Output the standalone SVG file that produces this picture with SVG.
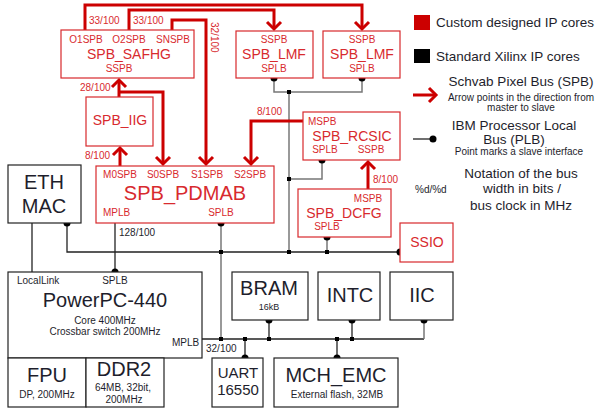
<svg xmlns="http://www.w3.org/2000/svg" width="597" height="408" viewBox="0 0 597 408">
<style>
text{font-family:"Liberation Sans",Arial,sans-serif}
.rb{fill:#fff;stroke:#d8282c;stroke-width:1.2}
.bb{fill:#fff;stroke:#222;stroke-width:1.2}
.rt{fill:#d82a2e}
.bt{fill:#1e1e2c}
.s10{font-size:10px}
.s14{font-size:14px}
.s20{font-size:20px}
.s9{font-size:9px}
.s135{font-size:13.5px}
.m{text-anchor:middle}
.spb{fill:none;stroke:#cc0000;stroke-width:3;marker-end:url(#arr)}
.spbn{fill:none;stroke:#cc0000;stroke-width:3}
.plb{fill:none;stroke:#222;stroke-width:1.3}
.plbg{fill:none;stroke:#777;stroke-width:1.5}
.dot{fill:#000}
.j{fill:#000}
</style>
<defs>
<marker id="arr" markerUnits="userSpaceOnUse" markerWidth="20" markerHeight="20" viewBox="-10 -10 20 20" refX="0" refY="0" orient="auto" overflow="visible">
<path d="M-7,-7 L0,0 L-7,7" fill="none" stroke="#cc0000" stroke-width="3"/>
</marker>
</defs>

<!-- connectors -->
<g id="connectors">
<!-- PLB -->
<polyline class="plbg" points="274,78 274,92 362,92 362,78"/>
<line class="plbg" x1="289" y1="92" x2="289" y2="252"/>
<polyline class="plbg" points="322,160 322,179 289,179"/>
<line class="plbg" x1="327" y1="237" x2="327" y2="252"/>
<polyline class="plb" points="67,223 67,252 400,252"/>
<line class="plbg" x1="221" y1="223" x2="221" y2="339"/>
<line class="plb" x1="32" y1="223" x2="32" y2="272"/>
<line class="plb" x1="115" y1="223" x2="115" y2="272"/>
<polyline class="plb" points="202,339 424,339"/>
<line class="plbg" x1="424" y1="339" x2="424" y2="320"/>
<line class="plb" x1="245" y1="339" x2="245" y2="358"/>
<line class="plb" x1="269" y1="339" x2="269" y2="320"/>
<line class="plb" x1="337" y1="339" x2="337" y2="358"/>
<line class="plb" x1="352" y1="339" x2="352" y2="320"/>
<rect class="j" x="287" y="90" width="4" height="4"/>
<rect class="j" x="287" y="177" width="4" height="4"/>
<rect class="j" x="219" y="250" width="4" height="4"/>
<rect class="j" x="287" y="250" width="4" height="4"/>
<rect class="j" x="325" y="250" width="4" height="4"/>
<rect class="j" x="219" y="337" width="4" height="4"/>
<rect class="j" x="243" y="337" width="4" height="4"/>
<rect class="j" x="267" y="337" width="4" height="4"/>
<rect class="j" x="335" y="337" width="4" height="4"/>
<rect class="j" x="350" y="337" width="4" height="4"/>
<circle class="dot" cx="274" cy="78" r="3.5"/>
<circle class="dot" cx="362" cy="78" r="3.5"/>
<circle class="dot" cx="322" cy="160" r="3.5"/>
<circle class="dot" cx="327" cy="237" r="3.5"/>
<circle class="dot" cx="67" cy="223" r="3.5"/>
<circle class="dot" cx="221" cy="223" r="3.5"/>
<circle class="dot" cx="400" cy="252" r="3.5"/>
<circle class="dot" cx="115" cy="272" r="3.5"/>
<circle class="dot" cx="424" cy="320" r="3.5"/>
<circle class="dot" cx="269" cy="320" r="3.5"/>
<circle class="dot" cx="352" cy="320" r="3.5"/>
<circle class="dot" cx="245" cy="358" r="3.5"/>
<circle class="dot" cx="337" cy="358" r="3.5"/>
<!-- SPB -->
<polyline class="spb" points="85,30 85,5 362,5 362,29"/>
<polyline class="spb" points="129,30 129,10 274,10 274,29"/>
<polyline class="spb" points="172,30 172,20 206,20 206,164"/>
<line class="spb" x1="119" y1="97" x2="119" y2="80"/>
<polyline class="spb" points="119,92 163,92 163,164"/>
<line class="spb" x1="120" y1="166" x2="120" y2="148"/>
<polyline class="spb" points="303,121 251,121 251,164"/>
<line class="spb" x1="368" y1="189" x2="368" y2="162"/>
<text class="rt s10" x="89" y="24">33/100</text>
<text class="rt s10" x="133" y="24">33/100</text>
<text class="rt s10" transform="translate(210.5,22) rotate(90)">32/100</text>
<text class="rt s10" x="80" y="91">28/100</text>
<text class="rt s10" x="85" y="159">8/100</text>
<text class="rt s10" x="257" y="115">8/100</text>
<text class="rt s10" x="373" y="183">8/100</text>
<text class="bt s10" x="119" y="236">128/100</text>
<text class="bt s10" x="206" y="352">32/100</text>
</g>

<g id="SPB_SAFHG">
<rect class="rb" x="61" y="30" width="133" height="48"/>
<text class="rt s10 m" x="86" y="43">O1SPB</text>
<text class="rt s10 m" x="129" y="43">O2SPB</text>
<text class="rt s10 m" x="173" y="43">SNSPB</text>
<text class="rt s14 m" x="129" y="59">SPB_SAFHG</text>
<text class="rt s10 m" x="119" y="72">SSPB</text>
</g>

<g id="SPB_LMF1">
<rect class="rb" x="236" y="31" width="77" height="47"/>
<text class="rt s10 m" x="274" y="43">SSPB</text>
<text class="rt s14 m" x="274" y="59">SPB_LMF</text>
<text class="rt s10 m" x="274" y="72">SPLB</text>
</g>

<g id="SPB_LMF2">
<rect class="rb" x="323" y="31" width="77" height="47"/>
<text class="rt s10 m" x="362" y="43">SSPB</text>
<text class="rt s14 m" x="362" y="59">SPB_LMF</text>
<text class="rt s10 m" x="362" y="72">SPLB</text>
</g>

<g id="SPB_IIG">
<rect class="rb" x="86" y="97" width="67" height="49"/>
<text class="rt s14 m" x="120" y="125">SPB_IIG</text>
</g>

<g id="SPB_RCSIC">
<rect class="rb" x="303" y="112" width="97" height="48"/>
<text class="rt s10" x="308" y="125">MSPB</text>
<text class="rt s14 m" x="352" y="141">SPB_RCSIC</text>
<text class="rt s10 m" x="325" y="153">SPLB</text>
<text class="rt s10 m" x="371" y="153">SSPB</text>
</g>

<g id="SPB_PDMAB">
<rect class="rb" x="96" y="166" width="178" height="57"/>
<text class="rt s10 m" x="120" y="178">M0SPB</text>
<text class="rt s10 m" x="163" y="178">S0SPB</text>
<text class="rt s10 m" x="207" y="178">S1SPB</text>
<text class="rt s10 m" x="250" y="178">S2SPB</text>
<text class="rt s20 m" x="185" y="200">SPB_PDMAB</text>
<text class="rt s10" x="103" y="216">MPLB</text>
<text class="rt s10 m" x="221" y="216">SPLB</text>
</g>

<g id="SPB_DCFG">
<rect class="rb" x="298" y="189" width="93" height="48"/>
<text class="rt s10 m" x="368" y="202">MSPB</text>
<text class="rt s14 m" x="344" y="218">SPB_DCFG</text>
<text class="rt s10 m" x="327" y="230">SPLB</text>
</g>

<g id="SSIO">
<rect class="rb" x="400" y="223" width="53" height="39"/>
<text class="rt s14 m" x="427" y="247">SSIO</text>
</g>

<g id="ETH_MAC">
<rect class="bb" x="8" y="165" width="73" height="58"/>
<text class="bt s20 m" x="44" y="189">ETH</text>
<text class="bt s20 m" x="44" y="213">MAC</text>
</g>

<g id="PowerPC">
<rect class="bb" x="8" y="272" width="194" height="86"/>
<text class="bt s10" x="17" y="284">LocalLink</text>
<text class="bt s10 m" x="115" y="284">SPLB</text>
<text class="bt s20 m" x="105" y="307">PowerPC-440</text>
<text class="bt s10 m" x="105" y="324">Core 400MHz</text>
<text class="bt s10 m" x="105" y="335">Crossbar switch 200MHz</text>
<text class="bt s10" x="172" y="346">MPLB</text>
</g>

<g id="FPU">
<rect class="bb" x="8" y="358" width="78" height="49"/>
<text class="bt s20 m" x="47" y="382">FPU</text>
<text class="bt s10 m" x="47" y="398">DP, 200MHz</text>
</g>

<g id="DDR2">
<rect class="bb" x="86" y="358" width="78" height="49"/>
<text class="bt s20 m" x="124" y="376">DDR2</text>
<text class="bt s10 m" x="123" y="391">64MB, 32bit,</text>
<text class="bt s10 m" x="124" y="403">200MHz</text>
</g>

<g id="BRAM">
<rect class="bb" x="232" y="272" width="76" height="48"/>
<text class="bt s20 m" x="269" y="295">BRAM</text>
<text class="bt s9 m" x="269" y="310">16kB</text>
</g>

<g id="INTC">
<rect class="bb" x="318" y="272" width="62" height="48"/>
<text class="bt s20 m" x="350" y="302">INTC</text>
</g>

<g id="IIC">
<rect class="bb" x="390" y="272" width="63" height="48"/>
<text class="bt s20 m" x="422" y="302">IIC</text>
</g>

<g id="UART">
<rect class="bb" x="212" y="358" width="51" height="49"/>
<text class="bt m" style="font-size:15px" x="238" y="378">UART</text>
<text class="bt m" style="font-size:15px" x="238" y="395">16550</text>
</g>

<g id="MCH_EMC">
<rect class="bb" x="274" y="358" width="124" height="49"/>
<text class="bt s20 m" x="336" y="382">MCH_EMC</text>
<text class="bt s10 m" x="337" y="398">External flash, 32MB</text>
</g>

<g id="legend">
<rect x="414" y="15" width="16" height="15" fill="#cc0000"/>
<text class="bt s135" x="436" y="27">Custom designed IP cores</text>
<rect x="414" y="49" width="16" height="14" fill="#000"/>
<text class="bt s135" x="436" y="61">Standard Xilinx IP cores</text>
<line class="spb" x1="413" y1="95" x2="436" y2="95"/>
<text class="bt s135 m" x="521" y="86">Schvab Pixel Bus (SPB)</text>
<text class="bt s10 m" x="521" y="101">Arrow points in the direction from</text>
<text class="bt s10 m" x="521" y="111">master to slave</text>
<line x1="413" y1="139" x2="433" y2="139" stroke="#222" stroke-width="1.3"/>
<circle class="dot" cx="433" cy="139" r="3.5"/>
<text class="bt s135 m" x="514" y="130">IBM Processor Local</text>
<text class="bt s135 m" x="514" y="144">Bus (PLB)</text>
<text class="bt s10 m" x="519" y="155">Point marks a slave interface</text>
<text class="bt s10" x="415" y="193">%d/%d</text>
<text class="bt s135 m" x="521" y="178">Notation of the bus</text>
<text class="bt s135 m" x="522" y="193">width in bits /</text>
<text class="bt s135 m" x="521" y="210">bus clock in MHz</text>
</g>
</svg>
